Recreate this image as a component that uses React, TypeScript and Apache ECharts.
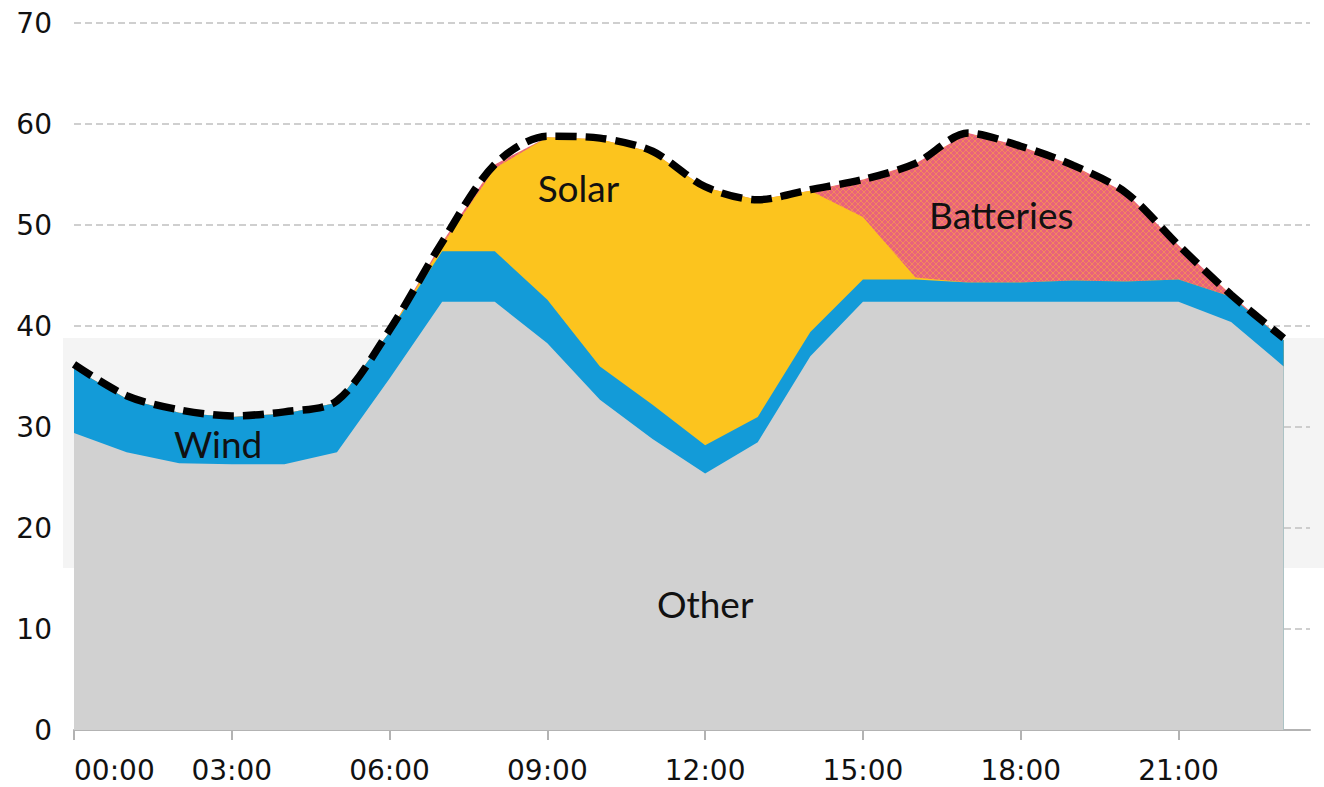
import React, { useEffect, useRef } from "react";
import * as echarts from "echarts";

const hours = [0, 1, 2, 3, 4, 5, 6, 7, 8, 9, 10, 11, 12, 13, 14, 15, 16, 17, 18, 19, 20, 21, 22, 23];
const tickHours = [0, 3, 6, 9, 12, 15, 18, 21];
const tickLabels = ["00:00", "03:00", "06:00", "09:00", "12:00", "15:00", "18:00", "21:00"];

const other = [29.4, 27.5, 26.4, 26.3, 26.3, 27.5, 34.8, 42.4, 42.4, 38.3, 32.7, 28.8, 25.4, 28.5, 37.0, 42.4, 42.4, 42.4, 42.4, 42.4, 42.4, 42.4, 40.4, 36.0];
const wind = [6.4, 5.3, 5.0, 4.7, 5.0, 4.9, 4.6, 5.0, 5.0, 4.3, 3.3, 3.4, 2.8, 2.5, 2.4, 2.2, 2.2, 1.9, 1.9, 2.1, 2.0, 2.2, 2.5, 2.6];
const solar = [0, 0, 0, 0, 0, 0, 0, 0.6, 8.2, 16.1, 22.5, 25.0, 25.5, 21.5, 14.0, 6.2, 0.2, 0, 0, 0, 0, 0, 0, 0];
const batteries = [0, 0, 0, 0, 0, 0, 0, 0.3, 0.4, 0, 0, 0, 0, 0, 0, 3.7, 11.3, 14.8, 13.5, 11.4, 8.8, 3.4, 0.2, 0];
const demand = [36.2, 33.1, 31.7, 31.1, 31.5, 32.6, 39.6, 48.3, 56.0, 58.8, 58.6, 57.3, 53.8, 52.5, 53.5, 54.5, 56.1, 59.1, 57.8, 55.9, 53.2, 48.0, 43.1, 38.8];

const labelNames = ["Wind", "Solar", "Batteries", "Other"];
const labelHours = [2.74, 9.59, 17.63, 12.0];
const labelValues = [28.4, 53.7, 51.0, 12.5];

function makeHatch(): string {
  const c = document.createElement("canvas");
  c.width = 6;
  c.height = 6;
  const ctx = c.getContext("2d");
  if (!ctx) return "";
  ctx.fillStyle = "#e8637b";
  ctx.fillRect(0, 0, 6, 6);
  ctx.strokeStyle = "#f3885c";
  ctx.lineWidth = 1;
  ctx.beginPath();
  ctx.moveTo(0, 0);
  ctx.lineTo(6, 6);
  ctx.moveTo(6, 0);
  ctx.lineTo(0, 6);
  ctx.stroke();
  return c.toDataURL();
}

const pair = (arr: number[]) => hours.map((h, i) => [h, arr[i]]);

// cumulative tops of the stacked layers (Other, Wind, Solar, Batteries)
const layers = [other, wind, solar, batteries];
const cumulative = layers.map((_, k) =>
  hours.map((_, i) => {
    let s = 0;
    for (let j = 0; j <= k; j++) s += layers[j][i];
    return Math.round(s * 100) / 100;
  })
);

export default function App() {
  const ref = useRef<HTMLDivElement>(null);
  useEffect(() => {
    document.body.style.margin = "0";
    if (!ref.current) return;
    const chart = echarts.init(ref.current, undefined, { renderer: "svg" });
    const hatch = makeHatch();
    const areaSeries = (name: string, data: number[], color: any, z: number) => ({
      name,
      type: "line",
      data: pair(data),
      showSymbol: false,
      symbol: "none",
      z,
      lineStyle: { width: 0 },
      areaStyle: { color, opacity: 1, origin: "start" },
      silent: true,
    });
    chart.setOption({
      animation: false,
      graphic: [
        {
          type: "rect",
          z: -10,
          silent: true,
          shape: { x: 63, y: 338, width: 1261, height: 230 },
          style: { fill: "#f4f4f4" },
        },
      ],
      grid: { left: 74, right: 14, top: 23, bottom: 57 },
      xAxis: {
        type: "value",
        min: 0,
        max: 23.5,
        interval: 3,
        axisLine: { show: true, lineStyle: { color: "#b3b3b3", width: 2 } },
        axisTick: { show: true, length: 10, customValues: tickHours, lineStyle: { color: "#b3b3b3", width: 2 } },
        axisLabel: {
          customValues: tickHours,
          formatter: (v: number) => tickLabels[tickHours.indexOf(v)] ?? "",
          fontSize: 28,
          color: "#111",
          fontFamily: "DejaVu Sans",
          margin: 26,
          alignMinLabel: "left",
        },
        splitLine: { show: false },
      },
      yAxis: {
        type: "value",
        min: 0,
        max: 70,
        interval: 10,
        axisLine: { show: false },
        axisTick: { show: false },
        axisLabel: { fontSize: 28, color: "#111", fontFamily: "DejaVu Sans", margin: 22 },
        splitLine: { lineStyle: { color: "#c0c0c0", type: [7, 4], width: 1.6 } },
      },
      series: [
        areaSeries("Batteries", cumulative[3], { image: hatch, repeat: "repeat" }, 2),
        areaSeries("Solar", cumulative[2], "#fcc41e", 3),
        areaSeries("Wind", cumulative[1], "#139bd8", 4),
        areaSeries("Other", cumulative[0], "#d1d1d1", 5),
        {
          name: "Demand",
          type: "line",
          data: pair(demand),
          smooth: 0.3,
          showSymbol: false,
          symbol: "none",
          z: 8,
          lineStyle: { color: "#000", width: 7.5, type: [21, 9] },
          markPoint: {
            symbol: "circle",
            symbolSize: 1,
            silent: true,
            itemStyle: { color: "rgba(0,0,0,0)" },
            label: {
              show: true,
              position: "inside",
              formatter: "{b}",
              color: "#111",
              fontFamily: "Lato",
              fontSize: 37,
            },
            data: labelNames.map((n, i) => ({ name: n, coord: [labelHours[i], labelValues[i]] })),
          },
        },
      ],
    });
    return () => chart.dispose();
  }, []);
  return <div ref={ref} style={{ width: 1324, height: 787 }} />;
}
